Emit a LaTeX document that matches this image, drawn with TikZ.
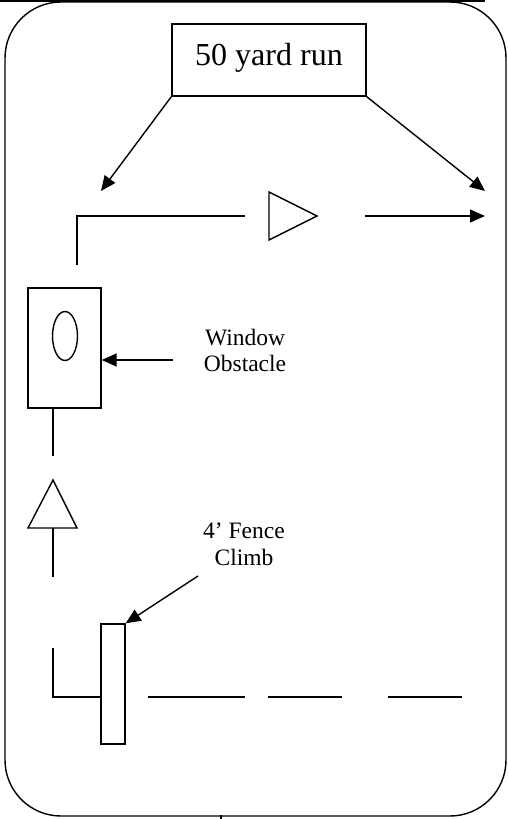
\documentclass[tikz,border=0pt]{standalone}
\usepackage{fontspec}
\setmainfont{Liberation Serif}
\usetikzlibrary{arrows.meta,shapes.geometric}
\begin{document}
\begin{tikzpicture}[x=1pt,y=-1pt,line width=1.4pt,
  arr/.style={-{Triangle[length=15pt,width=13pt]}},
  plainbox/.style={draw,inner sep=0pt},
  lbl/.style={align=center,font=\fontsize{23.5}{26.5}\selectfont,inner sep=0pt}]
\useasboundingbox (0,0) rectangle (508,819);
% frame
\coordinate (tl0) at (0,1);
\coordinate (tl1) at (485,1);
\draw (tl0) -- (tl1);
\coordinate (fr1) at (5,2);
\coordinate (fr2) at (506,816);
\draw[rounded corners=56pt] (fr1) rectangle (fr2);
\coordinate (bt0) at (221,815);
\coordinate (bt1) at (221,819);
\draw[line width=1.6pt] (bt0) -- (bt1);
% 50 yard run
\node[plainbox,minimum width=194pt,minimum height=72pt,
  font=\fontsize{32}{38}\selectfont,text height=22pt,text depth=12pt] (run) at (269,60) {50 yard run};
\coordinate (lt) at (101,191);
\coordinate (rt) at (485,191);
\draw[arr] (run.south west) -- (lt);
\draw[arr] (run.south east) -- (rt);
% top path
\coordinate (p1) at (77,265);
\coordinate (p2) at (77,216);
\coordinate (p3) at (245,216);
\draw (p1) -- (p2) -- (p3);
\coordinate (t1) at (269,192);
\coordinate (t2) at (269,240);
\coordinate (t3) at (317,216);
\draw (t1) -- (t2) -- (t3) -- cycle;
\coordinate (a1) at (365,216);
\coordinate (a2) at (485,216);
\draw[arr] (a1) -- (a2);
% window obstacle
\node[plainbox,minimum width=73pt,minimum height=120pt] (win) at (64.5,348) {};
\node[draw,ellipse,inner sep=0pt,minimum width=25pt,minimum height=49pt] (hole) at (65,336) {};
\coordinate (w1) at (173,360);
\draw[arr] (w1) -- (win.east |- w1);
\node[lbl] (wlbl) at (245,350.5) {Window\\Obstacle};
% vertical path
\coordinate (v1) at (53,456);
\draw (win.south -| v1) -- (v1);
\coordinate (u1) at (53,480);
\coordinate (u2) at (28,528);
\coordinate (u3) at (77,528);
\draw (u1) -- (u2) -- (u3) -- cycle;
\coordinate (v2) at (53,577);
\draw (u1 |- u2) -- (v2);
% fence
\node[lbl] (flbl) at (244,544.5) {4’ Fence\\Climb};
\node[plainbox,minimum width=24pt,minimum height=120pt] (fence) at (113,684) {};
\coordinate (f1) at (198,576);
\draw[arr] (f1) -- (fence.north east);
\coordinate (l1) at (53,648);
\coordinate (l2) at (53,697);
\draw (l1) -- (l2) -- (fence.west |- l2);
\coordinate (d1) at (148,697);
\coordinate (d2) at (245,697);
\coordinate (d3) at (268,697);
\coordinate (d4) at (342,697);
\coordinate (d5) at (388,697);
\coordinate (d6) at (462,697);
\draw (d1) -- (d2);
\draw (d3) -- (d4);
\draw (d5) -- (d6);
\end{tikzpicture}
\end{document}
